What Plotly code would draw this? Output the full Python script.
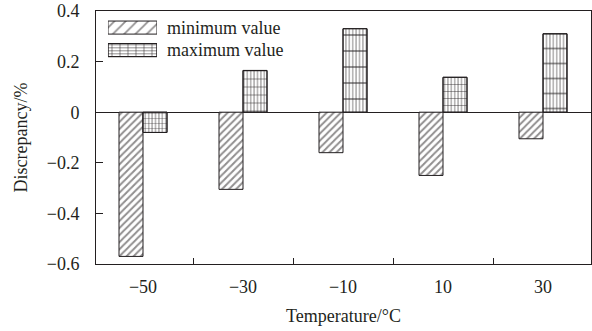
import plotly.graph_objects as go

# Temperature steps and measured discrepancy extremes (%)
temperatures = [-50, -30, -10, 10, 30]
min_values = [-0.57, -0.305, -0.16, -0.25, -0.105]
max_values = [-0.08, 0.165, 0.33, 0.138, 0.31]
y_ticks = [0.4, 0.2, 0, -0.2, -0.4, -0.6]
series_names = ["minimum value", "maximum value"]

labels = [str(t).replace("-", "\u2212") for t in temperatures]

ink = "#231f20"
font = "Liberation Serif"
# spacing of the horizontal rules drawn over each maximum-value bar
hrule_size = [5, 8, 16, 7, 15]

hatch_min = dict(shape="/", fgcolor=ink, bgcolor="white", size=5,
                 solidity=0.4, fillmode="overlay")
vrules = dict(shape="|", fgcolor=ink, bgcolor="white", size=3.4,
              solidity=0.33, fillmode="overlay")
clear = "rgba(0,0,0,0)"
edge = dict(color=ink, width=1)

fig = go.Figure()
fig.add_trace(go.Bar(
    x=labels, y=min_values, name=series_names[0], offsetgroup="min",
    marker=dict(color="white", line=edge, pattern=hatch_min),
))
fig.add_trace(go.Bar(
    x=labels, y=max_values, name=series_names[1], offsetgroup="max",
    marker=dict(color="white", line=edge, pattern=vrules),
))
fig.add_trace(go.Bar(
    x=labels, y=max_values, offsetgroup="max", hoverinfo="skip",
    marker=dict(color=clear, line=edge,
                pattern=dict(shape="-", fgcolor=ink, bgcolor=clear,
                             size=hrule_size, solidity=0.12)),
))

# key swatches: one full-width horizontal bar per series on a small inset axis
key_fill = [1, 1]
key_style = dict(orientation="h", xaxis="x2", yaxis="y2", hoverinfo="skip",
                 offsetgroup="key", width=0.58, offset=-0.29)
fig.add_trace(go.Bar(
    x=[key_fill[0]], y=[0], **key_style,
    marker=dict(color="white", line=edge,
                pattern=dict(shape="/", fgcolor=ink, bgcolor="white",
                             size=8, solidity=0.22, fillmode="overlay")),
))
fig.add_trace(go.Bar(
    x=[key_fill[1]], y=[-1], **key_style,
    marker=dict(color="white", line=edge,
                pattern=dict(shape="-", fgcolor=ink, bgcolor="white",
                             size=3, solidity=0.35, fillmode="overlay")),
))
fig.add_trace(go.Bar(
    x=[key_fill[1]], y=[-1], **key_style,
    marker=dict(color=clear, line=edge,
                pattern=dict(shape="|", fgcolor=ink, bgcolor=clear,
                             size=8, solidity=0.13)),
))

axis_font = dict(size=18, family=font, color=ink)

fig.update_layout(
    width=592, height=331,
    margin=dict(l=96, r=1, t=11, b=67),
    paper_bgcolor="white", plot_bgcolor="white",
    barmode="group", bargap=0.52, bargroupgap=0,
    font=dict(family=font, size=18, color=ink),
    showlegend=False,
    xaxis=dict(
        type="category", range=[-0.47, 4.48], tickson="boundaries",
        ticks="inside", ticklen=6, tickcolor=ink, tickwidth=1,
        showline=True, linecolor=ink, linewidth=1, mirror=True,
        showgrid=False, tickfont=axis_font, ticklabelstandoff=6,
        title=dict(text="Temperature/\u00b0C", font=axis_font, standoff=13),
    ),
    yaxis=dict(
        range=[-0.6, 0.4], tickvals=y_ticks,
        ticks="inside", ticklen=7, tickcolor=ink, tickwidth=1,
        showline=True, linecolor=ink, linewidth=1, mirror=True,
        showgrid=False, zeroline=True, zerolinecolor=ink, zerolinewidth=1,
        tickfont=axis_font, ticklabelstandoff=12,
        title=dict(text="Discrepancy/%", font=axis_font, standoff=14),
    ),
    xaxis2=dict(domain=[0.0242, 0.1232], anchor="y2", range=[0, 1],
                visible=False, fixedrange=True),
    yaxis2=dict(domain=[0.801, 0.979], anchor="x2", side="right",
                range=[-1.5, 0.5], tickmode="array", tickvals=[0, -1],
                ticktext=series_names, showline=False, showgrid=False,
                zeroline=False, ticks="", ticklabelstandoff=9,
                tickfont=axis_font, fixedrange=True),
)

fig.write_html("out.html")
